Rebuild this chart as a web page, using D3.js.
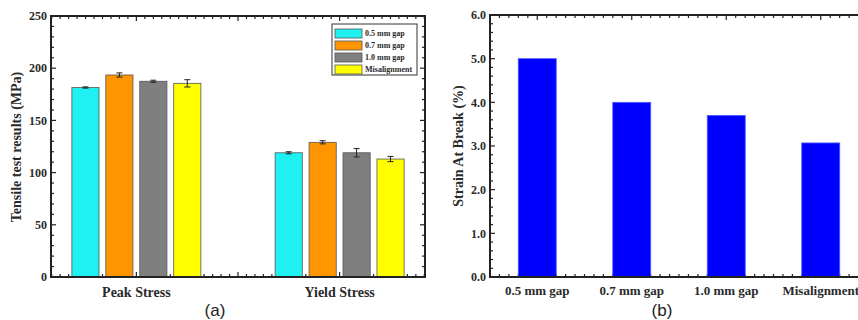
<!DOCTYPE html>
<html>
<head>
<meta charset="utf-8">
<script src="https://cdn.jsdelivr.net/npm/d3@7"></script>
<style>
  body { margin: 0; background: #fff; }
  svg { display: block; }
  .serif { font-family: "Liberation Serif", "DejaVu Serif", serif; font-weight: bold; fill: #2a2a2a; }
  .panel { font-family: "Liberation Sans", Arial, sans-serif; fill: #222; }
</style>
</head>
<body>
<svg id="chart" width="858" height="320"></svg>
<script>
// data
const groups = ['Peak Stress', 'Yield Stress'];
const series = ['0.5 mm gap', '0.7 mm gap', '1.0 mm gap', 'Misalignment'];
const peakValues = [181.5, 193.5, 187.5, 185.5];
const peakErrors = [0.6, 2, 1, 3.5];
const yieldValues = [119, 129, 119, 113];
const yieldErrors = [1, 1.5, 4, 2.5];
const stressTicks = [0, 50, 100, 150, 200, 250];
const strainValues = [5.0, 4.0, 3.7, 3.07];
const strainTicks = [0, 1, 2, 3, 4, 5, 6];

const stressColor = d3.scaleOrdinal()
    .domain(series)
    .range(['#1ff0f2', '#ff9500', '#7f7f7f', '#ffff00']);

const left = { x0: 51, x1: 425, y0: 16, y1: 277 };
const right = { x0: 490, x1: 868, y0: 15, y1: 277 };

const svg = d3.select('#chart');

// inward ticks on every side of a box plot frame
function drawFrame(box, yScale, yMajor, yMinor, xScale, xMajor, xMinor, showRight) {
    const g = svg.append('g').attr('stroke', '#222').attr('stroke-width', 1.2);
    const tick = (x1, y1, x2, y2) => g.append('line')
        .attr('x1', x1).attr('y1', y1).attr('x2', x2).attr('y2', y2);

    yMinor.forEach(v => {
        const len = yMajor.includes(v) ? 5 : 3;
        tick(box.x0, yScale(v), box.x0 + len, yScale(v));
        if (showRight) tick(box.x1, yScale(v), box.x1 - len, yScale(v));
    });
    xMinor.forEach(v => {
        const len = xMajor.some(m => Math.abs(m - v) < 1e-6) ? 5 : 3;
        tick(xScale(v), box.y1, xScale(v), box.y1 - len);
        tick(xScale(v), box.y0, xScale(v), box.y0 + len);
    });
}

function drawBorder(box) {
    svg.append('rect')
        .attr('x', box.x0).attr('y', box.y0)
        .attr('width', box.x1 - box.x0).attr('height', box.y1 - box.y0)
        .attr('fill', 'none')
        .attr('stroke', '#222')
        .attr('stroke-width', 2);
}

// ---------- (a) tensile results ----------
const yStress = d3.scaleLinear().domain([0, 250]).range([left.y1, left.y0]);
const xGroup = d3.scalePoint().domain(groups).range([left.x0, left.x1]).padding(0.42);
const xSub = d3.scaleBand().domain(series).range([-64.5, 64.5]).paddingInner(0.2);
const xTickA = d3.scaleLinear().domain([-0.42, 1.42]).range([left.x0, left.x1]);

drawFrame(left, yStress, stressTicks, d3.range(0, 251, 10),
    xTickA, [0, 0.5, 1], d3.range(-10, 35).map(k => k / 24), true);

const stressRows = [
    { group: groups[0], values: peakValues, errors: peakErrors },
    { group: groups[1], values: yieldValues, errors: yieldErrors }
];

const barGroups = svg.append('g')
    .selectAll('g')
    .data(stressRows)
    .join('g')
    .attr('transform', d => `translate(${xGroup(d.group)},0)`);

barGroups.selectAll('rect')
    .data(d => series.map((s, i) => ({ s, v: d.values[i], e: d.errors[i] })))
    .join('rect')
    .attr('x', d => xSub(d.s))
    .attr('y', d => yStress(d.v))
    .attr('width', xSub.bandwidth())
    .attr('height', d => yStress(0) - yStress(d.v))
    .attr('fill', d => stressColor(d.s))
    .attr('stroke', '#555')
    .attr('stroke-width', 0.8);

// error bars
const err = barGroups.selectAll('g.err')
    .data(d => series.map((s, i) => ({ s, v: d.values[i], e: d.errors[i] })))
    .join('g')
    .attr('class', 'err')
    .attr('stroke', '#222')
    .attr('stroke-width', 1);
err.append('line')
    .attr('x1', d => xSub(d.s) + xSub.bandwidth() / 2)
    .attr('x2', d => xSub(d.s) + xSub.bandwidth() / 2)
    .attr('y1', d => yStress(d.v - d.e))
    .attr('y2', d => yStress(d.v + d.e));
err.append('line')
    .attr('x1', d => xSub(d.s) + xSub.bandwidth() / 2 - 3)
    .attr('x2', d => xSub(d.s) + xSub.bandwidth() / 2 + 3)
    .attr('y1', d => yStress(d.v + d.e))
    .attr('y2', d => yStress(d.v + d.e));
err.append('line')
    .attr('x1', d => xSub(d.s) + xSub.bandwidth() / 2 - 3)
    .attr('x2', d => xSub(d.s) + xSub.bandwidth() / 2 + 3)
    .attr('y1', d => yStress(d.v - d.e))
    .attr('y2', d => yStress(d.v - d.e));

drawBorder(left);

// y tick labels
svg.append('g')
    .selectAll('text')
    .data(stressTicks)
    .join('text')
    .attr('class', 'serif')
    .attr('x', left.x0 - 4)
    .attr('y', d => yStress(d))
    .attr('dy', '0.35em')
    .attr('text-anchor', 'end')
    .style('font-size', '12px')
    .text(d => d);

// category labels
svg.append('g')
    .selectAll('text')
    .data(groups)
    .join('text')
    .attr('class', 'serif')
    .attr('x', d => xGroup(d))
    .attr('y', 297)
    .attr('text-anchor', 'middle')
    .style('font-size', '14px')
    .text(d => d);

svg.append('text')
    .attr('class', 'serif')
    .attr('transform', `translate(21, 147) rotate(-90)`)
    .attr('text-anchor', 'middle')
    .style('font-size', '14px')
    .text('Tensile test results (MPa)');

// legend
const legend = svg.append('g').attr('transform', 'translate(332, 24)');
legend.append('rect')
    .attr('width', 85).attr('height', 51)
    .attr('fill', '#fff')
    .attr('stroke', '#333')
    .attr('stroke-width', 1);
series.forEach((s, i) => {
    legend.append('rect')
        .attr('x', 3)
        .attr('y', 5 + i * 12)
        .attr('width', 27)
        .attr('height', 9)
        .attr('fill', stressColor(s))
        .attr('stroke', '#555')
        .attr('stroke-width', 0.8);
    legend.append('text')
        .attr('class', 'serif')
        .attr('x', 33)
        .attr('y', 9.5 + i * 12)
        .attr('dy', '0.35em')
        .style('font-size', '8px')
        .text(s);
});

svg.append('text')
    .attr('class', 'panel')
    .attr('x', 215)
    .attr('y', 316)
    .attr('text-anchor', 'middle')
    .style('font-size', '17px')
    .text('(a)');

// ---------- (b) strain at break ----------
const yStrain = d3.scaleLinear().domain([0, 6]).range([right.y1, right.y0]);
const xCond = d3.scaleBand().domain(series).range([right.x0, right.x1])
    .paddingInner(0.598).paddingOuter(0.299);
const xTickB = d3.scaleLinear().domain([-0.5, 3.5]).range([right.x0, right.x1]);

drawFrame(right, yStrain, strainTicks, d3.range(0, 31).map(k => k / 5),
    xTickB, [0, 1, 2, 3], d3.range(-5, 36).map(k => k / 10), false);

svg.append('g')
    .selectAll('rect')
    .data(strainValues)
    .join('rect')
    .attr('x', (d, i) => xCond(series[i]))
    .attr('y', d => yStrain(d))
    .attr('width', xCond.bandwidth())
    .attr('height', d => yStrain(0) - yStrain(d))
    .attr('fill', '#0000ff')
    .attr('stroke', '#4a5cff')
    .attr('stroke-width', 0.8);

drawBorder(right);

svg.append('g')
    .selectAll('text')
    .data(strainTicks)
    .join('text')
    .attr('class', 'serif')
    .attr('x', right.x0 - 4)
    .attr('y', d => yStrain(d))
    .attr('dy', '0.35em')
    .attr('text-anchor', 'end')
    .style('font-size', '12px')
    .text(d => d.toFixed(1));

svg.append('g')
    .selectAll('text')
    .data(series)
    .join('text')
    .attr('class', 'serif')
    .attr('x', d => xCond(d) + xCond.bandwidth() / 2)
    .attr('y', 295)
    .attr('text-anchor', 'middle')
    .style('font-size', '13px')
    .text(d => d);

svg.append('text')
    .attr('class', 'serif')
    .attr('transform', `translate(463, 146) rotate(-90)`)
    .attr('text-anchor', 'middle')
    .style('font-size', '14px')
    .text('Strain At Break (%)');

svg.append('text')
    .attr('class', 'panel')
    .attr('x', 662)
    .attr('y', 316)
    .attr('text-anchor', 'middle')
    .style('font-size', '17px')
    .text('(b)');
</script>
</body>
</html>
